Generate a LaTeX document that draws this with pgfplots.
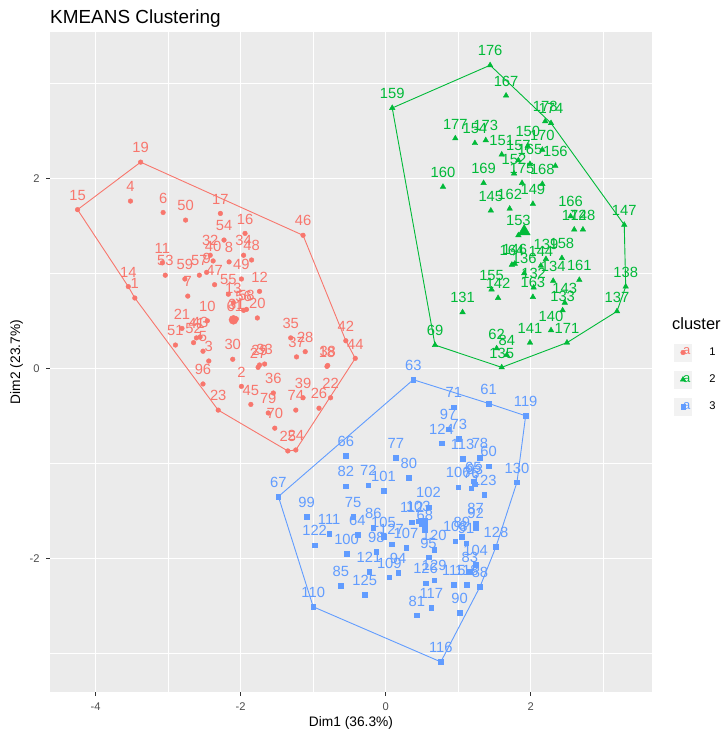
\documentclass[border=0pt]{standalone}
\usepackage{fontspec}
\setmainfont{Liberation Sans}
\usepackage{pgfplots}
\usepackage{pgfplotstable}
\pgfplotsset{compat=1.18}

\definecolor{cA}{HTML}{F8766D}
\definecolor{cB}{HTML}{00BA38}
\definecolor{cC}{HTML}{619CFF}
\definecolor{panelbg}{HTML}{EBEBEB}
\definecolor{keybg}{HTML}{F2F2F2}
\definecolor{tickcol}{HTML}{333333}
\definecolor{ticklab}{HTML}{4D4D4D}

\newcommand\labfont{\fontsize{14.8}{15}\selectfont}
\newcommand\tickfont{\fontsize{11.2}{12}\selectfont}
\newcommand\keyfont{\fontsize{13}{13}\selectfont}

% cluster 1
\pgfplotstableread{
x y lab
-3.46 0.74 1
-1.99 -0.19 2
-2.44 0.077 3
-3.52 1.76 4
-2.52 0.18 5
-3.07 1.64 6
-2.73 0.76 7
-2.16 1.12 8
-2.47 1.01 9
-2.46 0.50 10
-3.08 1.11 11
-1.74 0.81 12
-2.10 0.69 13
-3.55 0.86 14
-4.25 1.67 15
-1.94 1.42 16
-2.28 1.63 17
-0.81 0.02 18
-3.38 2.17 19
-1.77 0.53 20
-2.81 0.42 21
-0.76 -0.31 22
-2.31 -0.44 23
-1.24 -0.86 24
-1.35 -0.87 25
-0.92 -0.42 26
-1.76 0.01 27
-1.11 0.175 28
-1.74 0.035 29
-2.11 0.095 30
-2.06 0.52 31
-2.42 1.19 32
-1.67 0.045 33
-1.96 1.19 34
-1.31 0.32 35
-1.55 -0.26 36
-1.23 0.12 37
-0.80 0.03 38
-1.14 -0.31 39
-2.38 1.13 40
-2.61 0.32 41
-0.55 0.29 42
-2.56 0.33 43
-0.42 0.105 44
-1.86 -0.38 45
-1.14 1.40 46
-2.36 0.88 47
-1.85 1.14 48
-1.99 0.94 49
-2.76 1.56 50
-2.90 0.245 51
-2.65 0.27 52
-3.04 0.98 53
-2.23 1.35 54
-2.17 0.78 55
-1.96 0.61 56
-2.57 0.98 57
-1.92 0.62 58
-2.77 0.94 59
-2.08 0.50 61
-1.53 -0.63 70
-1.24 -0.44 74
-1.62 -0.47 79
-2.52 -0.165 96
}\clusterA

% cluster 2
\pgfplotstableread{
x y lab
0.09 2.74 159
1.44 3.19 176
1.66 2.87 167
0.96 2.42 177
1.23 2.37 154
1.38 2.40 173
1.60 2.25 151
1.83 2.19 157
1.96 2.34 150
2.16 2.30 170
2.20 2.60 178
2.28 2.58 174
1.99 2.15 165
2.34 2.13 156
1.77 2.05 152
1.88 1.95 175
2.16 1.94 168
0.79 1.91 160
1.35 1.95 169
2.03 1.73 149
1.45 1.66 145
1.71 1.68 162
2.55 1.60 166
2.60 1.46 172
2.72 1.46 148
3.29 1.51 147
1.83 1.40 153
1.74 1.09 164
1.78 1.10 146
1.91 1.00 136
2.14 1.08 144
2.21 1.15 139
2.43 1.16 158
2.31 0.92 134
2.67 0.93 161
1.46 0.83 155
1.55 0.74 142
2.04 0.85 132
2.03 0.75 163
2.47 0.69 143
2.44 0.61 133
3.31 0.86 138
3.19 0.60 137
2.28 0.40 140
1.06 0.59 131
1.99 0.27 141
2.50 0.27 171
0.68 0.245 69
1.53 0.21 62
1.67 0.14 84
1.60 0.01 135
}\clusterB

% cluster 3
\pgfplotstableread{
x y lab
0.38 -0.12 63
0.94 -0.41 71
1.42 -0.37 61
1.93 -0.50 119
0.86 -0.64 97
1.01 -0.74 73
0.77 -0.79 124
1.06 -0.95 113
1.30 -0.94 78
1.42 -1.03 60
1.81 -1.20 130
1.00 -1.25 106
1.21 -1.19 65
1.18 -1.26 76
1.23 -1.22 93
1.36 -1.33 123
-0.55 -0.92 66
0.14 -0.94 77
0.32 -1.15 80
-0.55 -1.24 82
-0.24 -1.23 72
-0.03 -1.29 101
-1.48 -1.35 67
-1.09 -1.56 99
-0.45 -1.56 75
0.59 -1.46 102
-0.78 -1.74 111
-0.98 -1.86 122
-0.17 -1.68 86
-0.39 -1.75 64
-0.03 -1.77 105
0.08 -1.85 127
0.28 -1.89 107
-0.54 -1.95 100
-0.13 -1.93 98
-0.23 -2.14 121
0.17 -2.15 94
0.05 -2.20 109
-0.62 -2.29 85
-0.29 -2.38 125
-1.00 -2.51 110
0.76 -3.09 116
1.52 -1.88 128
1.24 -2.07 104
1.30 -2.30 88
0.94 -2.28 115
1.12 -2.28 118
1.16 -2.14 83
1.02 -2.57 90
0.63 -2.52 117
0.43 -2.60 81
0.55 -2.26 126
0.67 -2.23 129
0.59 -1.99 95
0.67 -1.91 120
0.96 -1.82 108
1.05 -1.77 89
1.11 -1.84 91
1.24 -1.68 92
1.24 -1.63 87
0.45 -1.61 103
0.54 -1.70 68
0.36 -1.62 112
}\clusterC

\begin{document}
\begin{tikzpicture}[x=1bp,y=1bp]
\path[use as bounding box] (0,0) rectangle (725,732);
\begin{axis}[
  at={(50bp,40bp)}, anchor=south west,
  scale only axis, width=602bp, height=660bp,
  xmin=-4.63, xmax=3.673, ymin=-3.407, ymax=3.540,
  axis background/.style={fill=panelbg},
  axis line style={draw=none},
  xtick pos=bottom, ytick pos=left,
  xtick={-4,-2,0,2}, xticklabels={-4,-2,0,2},
  ytick={-2,0,2}, yticklabels={-2,0,2},
  minor xtick={-3,-1,1,3}, minor ytick={-3,-1,1,3},
  grid=both,
  major grid style={white, line width=1.3bp},
  minor grid style={white, line width=0.65bp},
  tick align=outside, major tick length=3.7bp, minor tick length=0bp,
  tick style={tickcol, line width=0.9bp},
  xticklabel style={font=\tickfont, text=ticklab, inner sep=0pt, anchor=north, yshift=-6.6bp},
  yticklabel style={font=\tickfont, text=ticklab, inner sep=0pt, anchor=east, xshift=-6.6bp},
  clip=true,
  legend cell align=left,
  legend style={at={(axis description cs:1.0365,0.528)}, anchor=north west,
    draw=none, fill=none, inner sep=0pt, row sep=9.5bp, column sep=16bp,
    font=\tickfont, nodes={inner sep=1.5bp}},
]
% convex hulls
\addplot[cA, line width=0.9bp, no marks, forget plot] coordinates {
 (-4.25,1.67) (-3.38,2.17) (-1.14,1.40) (-0.55,0.29) (-0.42,0.105)
 (-1.24,-0.86) (-1.35,-0.87) (-2.31,-0.44) (-3.46,0.74) (-3.55,0.86) (-4.25,1.67)};
\addplot[cB, line width=0.9bp, no marks, forget plot] coordinates {
 (0.09,2.74) (1.44,3.19) (2.28,2.58) (3.29,1.51) (3.31,0.86) (3.19,0.60)
 (2.50,0.27) (1.60,0.01) (0.68,0.245) (0.09,2.74)};
\addplot[cC, line width=0.9bp, no marks, forget plot] coordinates {
 (0.38,-0.12) (1.42,-0.37) (1.93,-0.50) (1.81,-1.20) (1.52,-1.88) (1.30,-2.30)
 (0.76,-3.09) (-1.00,-2.51) (-1.48,-1.35) (0.38,-0.12)};

% observations with their labels
\addplot[only marks, mark=*, mark size=2.35bp, mark options={draw=cA, fill=cA},
  nodes near coords, point meta=explicit symbolic,
  every node near coord/.style={anchor=base, inner sep=0pt, yshift=9.3bp, font=\labfont, text=cA},
  legend image code/.code={
    \fill[keybg] (0bp,-8.6bp) rectangle (17.3bp,8.6bp);
    \draw[mark repeat=1, mark phase=1] plot coordinates {(8.65bp,0bp)};
    \node[inner sep=0pt, text=cA, font=\keyfont] at (8.65bp,0.3bp) {a};
  }] table[x=x, y=y, meta=lab] {\clusterA};
\addlegendentry{1}
\addplot[only marks, mark=triangle*, mark size=3.2bp, mark options={draw=cB, fill=cB},
  nodes near coords, point meta=explicit symbolic,
  every node near coord/.style={anchor=base, inner sep=0pt, yshift=9.3bp, font=\labfont, text=cB},
  legend image code/.code={
    \fill[keybg] (0bp,-8.6bp) rectangle (17.3bp,8.6bp);
    \draw[mark repeat=1, mark phase=1] plot coordinates {(8.65bp,0bp)};
    \node[inner sep=0pt, text=cB, font=\keyfont] at (8.65bp,0.3bp) {a};
  }] table[x=x, y=y, meta=lab] {\clusterB};
\addlegendentry{2}
\addplot[only marks, mark=square*, mark size=2.3bp, mark options={draw=cC, fill=cC},
  nodes near coords, point meta=explicit symbolic,
  every node near coord/.style={anchor=base, inner sep=0pt, yshift=9.3bp, font=\labfont, text=cC},
  legend image code/.code={
    \fill[keybg] (0bp,-8.6bp) rectangle (17.3bp,8.6bp);
    \draw[mark repeat=1, mark phase=1] plot coordinates {(8.65bp,0bp)};
    \node[inner sep=0pt, text=cC, font=\keyfont] at (8.65bp,0.3bp) {a};
  }] table[x=x, y=y, meta=lab] {\clusterC};
\addlegendentry{3}

% cluster centres
\addplot[only marks, mark=*, mark size=4.5bp, mark options={draw=cA, fill=cA}, forget plot] coordinates {(-2.10,0.51)};
\addplot[only marks, mark=triangle*, mark size=7bp, mark options={draw=cB, fill=cB}, forget plot] coordinates {(1.91,1.44)};
\addplot[only marks, mark=square*, mark size=4bp, mark options={draw=cC, fill=cC}, forget plot] coordinates {(0.52,-1.62)};
\end{axis}

\node[anchor=base west, inner sep=0pt, font=\fontsize{19}{19}\selectfont] at (50,708) {KMEANS Clustering};
\node[anchor=base, inner sep=0pt, font=\fontsize{13.8}{14}\selectfont] at (351,5) {Dim1 (36.3\%)};
\node[anchor=base, inner sep=0pt, rotate=90, font=\fontsize{13.8}{14}\selectfont] at (20,370) {Dim2 (23.7\%)};
\node[anchor=base west, inner sep=0pt, font=\fontsize{16.5}{17}\selectfont] at (672,402) {cluster};
\end{tikzpicture}
\end{document}
